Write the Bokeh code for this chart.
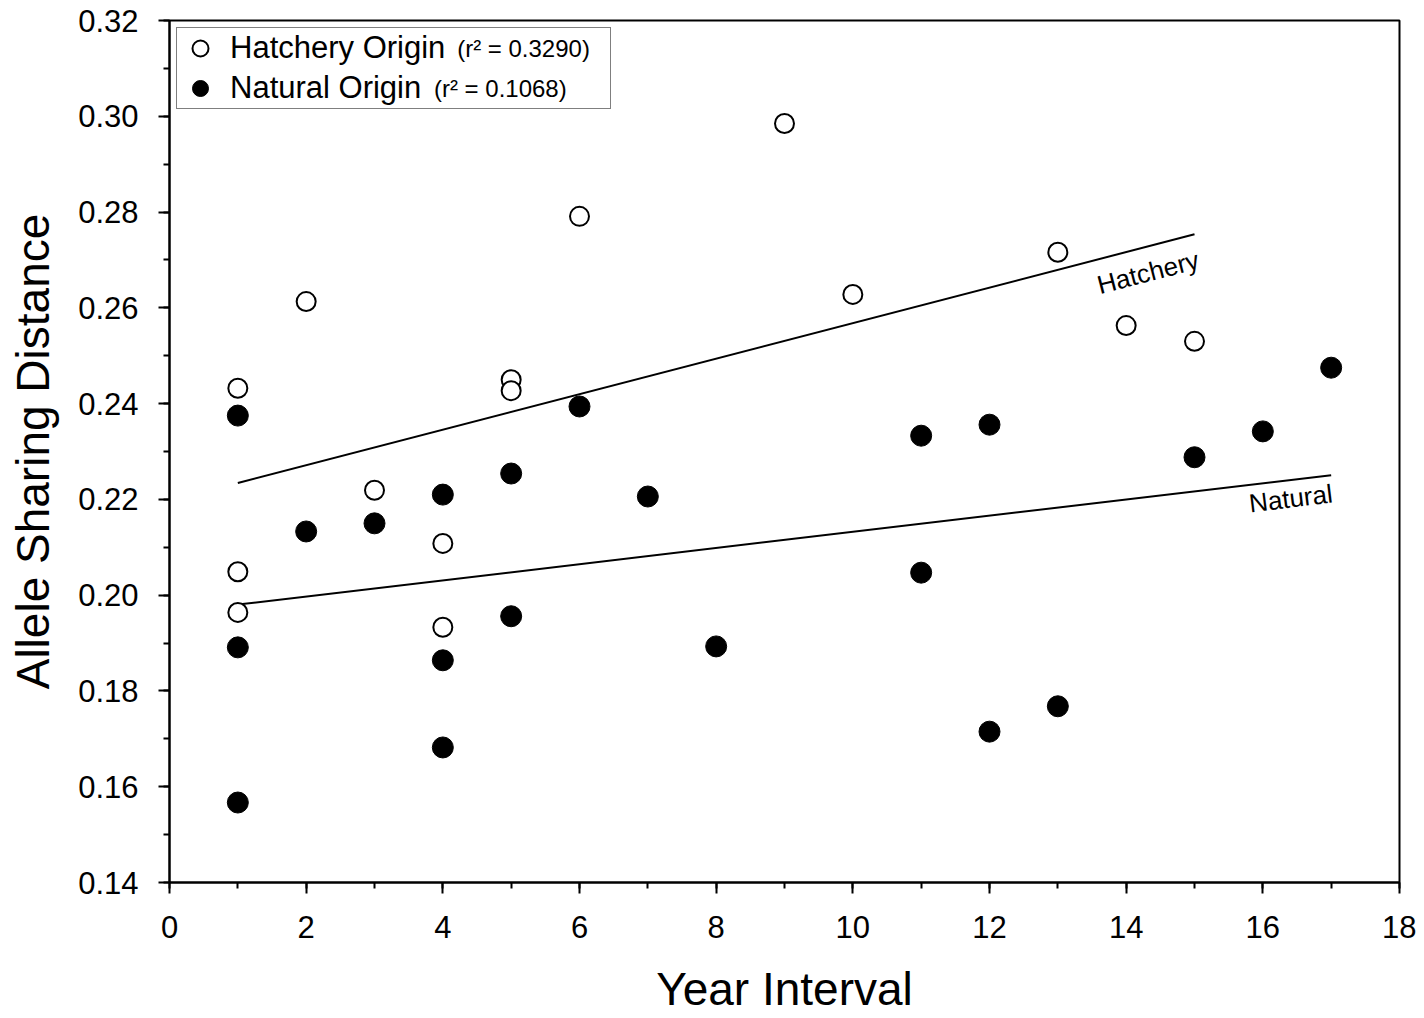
import numpy as np
from bokeh.plotting import figure
from bokeh.models import (Range1d, Label, Legend, LegendItem, FixedTicker,
                          NumeralTickFormatter)
from bokeh.embed import file_html
from bokeh.resources import INLINE

# ---- data ----
hatch_x = [1, 1, 1, 2, 3, 4, 4, 5, 5, 6, 9, 10, 13, 14, 15]
hatch_y = [0.2432, 0.2049, 0.1964, 0.2613, 0.2219, 0.2108, 0.1933, 0.2450,
           0.2427, 0.2791, 0.2985, 0.2628, 0.2716, 0.2563, 0.2530]
nat_x = [1, 1, 1, 2, 3, 4, 4, 4, 5, 5, 6, 7, 8, 11, 11, 12, 12, 13, 15, 16, 17]
nat_y = [0.2375, 0.1891, 0.1567, 0.2133, 0.2150, 0.2210, 0.1864, 0.1682,
         0.2254, 0.1956, 0.2394, 0.2206, 0.1893, 0.2333, 0.2047, 0.2356,
         0.1715, 0.1768, 0.2288, 0.2342, 0.2475]
hatch_r2 = "0.3290"
nat_r2 = "0.1068"
x_ticks = [0, 2, 4, 6, 8, 10, 12, 14, 16, 18]
x_minor = list(range(0, 19))
y_ticks = [0.14, 0.16, 0.18, 0.20, 0.22, 0.24, 0.26, 0.28, 0.30, 0.32]
y_minor = [round(0.14 + 0.01 * i, 2) for i in range(19)]

FONT = "Liberation Sans"

p = figure(width=1416, height=1018, output_backend="svg", toolbar_location=None,
           x_range=Range1d(0, 18), y_range=Range1d(0.14, 0.32),
           min_border_left=169, min_border_top=20, min_border_right=17,
           min_border_bottom=136)
p.background_fill_color = "white"
p.border_fill_color = "white"
p.outline_line_color = "black"
p.outline_line_width = 2
p.outline_line_alpha = 1
p.grid.visible = False

for ax in (p.xaxis[0], p.yaxis[0]):
    ax.axis_line_width = 2
    ax.major_tick_line_width = 2
    ax.minor_tick_line_width = 2
    ax.major_tick_in = 0
    ax.major_tick_out = 11
    ax.minor_tick_in = 0
    ax.minor_tick_out = 6
    ax.major_label_text_font = FONT
    ax.major_label_text_font_size = "31px"
    ax.major_label_text_color = "black"
    ax.axis_label_text_font = FONT
    ax.axis_label_text_font_size = "46px"
    ax.axis_label_text_font_style = "normal"
    ax.axis_label_text_color = "black"

p.xaxis.ticker = FixedTicker(ticks=x_ticks, minor_ticks=x_minor)
p.yaxis.ticker = FixedTicker(ticks=y_ticks, minor_ticks=y_minor)
p.yaxis.formatter = NumeralTickFormatter(format="0.00")
p.xaxis.axis_label = "Year Interval"
p.yaxis.axis_label = "Allele Sharing Distance"
p.xaxis.major_label_standoff = 22
p.yaxis.major_label_standoff = 20
p.xaxis.axis_label_standoff = 22
p.yaxis.axis_label_standoff = 16

# regression lines (least squares)
hx = np.array(hatch_x, float); hy = np.array(hatch_y)
nx = np.array(nat_x, float); ny = np.array(nat_y)
hs, hi = np.polyfit(hx, hy, 1)
ns, ni = np.polyfit(nx, ny, 1)
hl_x = [hx.min(), hx.max()]
nl_x = [nx.min(), nx.max()]
p.line(hl_x, [hs * v + hi for v in hl_x], line_color="black", line_width=2)
p.line(nl_x, [ns * v + ni for v in nl_x], line_color="black", line_width=2)

r_h = p.scatter(hatch_x, hatch_y, size=19, marker="circle", fill_color="white",
                line_color="black", line_width=2)
r_n = p.scatter(nat_x, nat_y, size=21, marker="circle", fill_color="black",
                line_color="black", line_width=1)

p.add_layout(Label(x=14.32, y=0.2674, text="Hatchery", angle=14.5, angle_units="deg",
                   text_align="center", text_baseline="middle",
                   text_font=FONT, text_font_size="26px", text_color="black"))
p.add_layout(Label(x=16.41, y=0.2202, text="Natural", angle=7, angle_units="deg",
                   text_align="center", text_baseline="middle",
                   text_font=FONT, text_font_size="26px", text_color="black"))

legend = Legend(items=[LegendItem(label="Hatchery Origin", renderers=[r_h]),
                       LegendItem(label="Natural Origin", renderers=[r_n])],
                location="top_left", margin=7, padding=0, spacing=0,
                glyph_width=46, glyph_height=40, label_standoff=7,
                label_width=380,
                label_text_font=FONT, label_text_font_size="31px",
                label_text_color="black",
                border_line_color="black", border_line_width=1.5,
                background_fill_alpha=0.0)
p.add_layout(legend)

p.add_layout(Label(x=4.21, y=0.3141, text="(r\u00b2 = " + hatch_r2 + ")",
                   text_align="left", text_baseline="middle", level="overlay",
                   text_font=FONT, text_font_size="24px", text_color="black"))
p.add_layout(Label(x=3.87, y=0.3057, text="(r\u00b2 = " + nat_r2 + ")",
                   text_align="left", text_baseline="middle", level="overlay",
                   text_font=FONT, text_font_size="24px", text_color="black"))

open("out.html", "w").write(file_html(p, INLINE))
